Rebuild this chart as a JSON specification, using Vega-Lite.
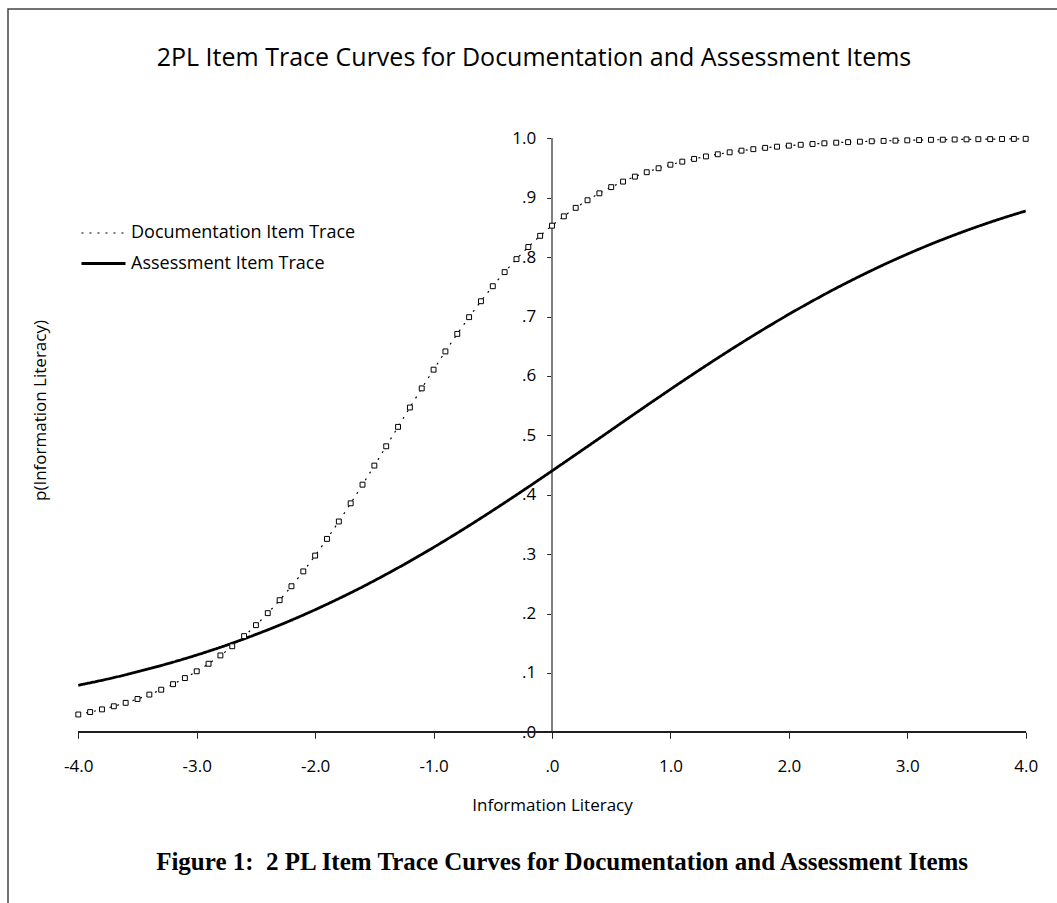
{
  "$schema": "https://vega.github.io/schema/vega-lite/v6.json",
  "width": 1057,
  "height": 903,
  "autosize": {"type": "fit", "contains": "padding"},
  "padding": {"left": 8, "top": 9, "right": -3, "bottom": -3},
  "background": "white",
  "config": {
    "view": {"stroke": "#444444", "strokeWidth": 1.5},
    "font": "Open Sans"
  },
  "title": {
    "text": "2PL Item Trace Curves for Documentation and Assessment Items",
    "subtitle": "\u200b\u2003\u2003\u00a0Figure 1:\u00a0 2 PL Item Trace Curves for Documentation and Assessment Items",
    "anchor": "middle",
    "frame": "group",
    "font": "Open Sans",
    "fontSize": 25,
    "fontWeight": "normal",
    "color": "black",
    "subtitleFont": "Liberation Serif",
    "subtitleFontSize": 25,
    "subtitleFontWeight": "bold",
    "subtitleColor": "black",
    "subtitlePadding": 779,
    "offset": -866
  },
  "data": {
    "values": [
      {"theta": -4.0, "series": "Documentation", "p": 0.0300},
      {"theta": -3.9, "series": "Documentation", "p": 0.0341},
      {"theta": -3.8, "series": "Documentation", "p": 0.0386},
      {"theta": -3.7, "series": "Documentation", "p": 0.0438},
      {"theta": -3.6, "series": "Documentation", "p": 0.0496},
      {"theta": -3.5, "series": "Documentation", "p": 0.0561},
      {"theta": -3.4, "series": "Documentation", "p": 0.0635},
      {"theta": -3.3, "series": "Documentation", "p": 0.0717},
      {"theta": -3.2, "series": "Documentation", "p": 0.0810},
      {"theta": -3.1, "series": "Documentation", "p": 0.0913},
      {"theta": -3.0, "series": "Documentation", "p": 0.1027},
      {"theta": -2.9, "series": "Documentation", "p": 0.1154},
      {"theta": -2.8, "series": "Documentation", "p": 0.1294},
      {"theta": -2.7, "series": "Documentation", "p": 0.1449},
      {"theta": -2.6, "series": "Documentation", "p": 0.1619},
      {"theta": -2.5, "series": "Documentation", "p": 0.1804},
      {"theta": -2.4, "series": "Documentation", "p": 0.2006},
      {"theta": -2.3, "series": "Documentation", "p": 0.2224},
      {"theta": -2.2, "series": "Documentation", "p": 0.2459},
      {"theta": -2.1, "series": "Documentation", "p": 0.2709},
      {"theta": -2.0, "series": "Documentation", "p": 0.2975},
      {"theta": -1.9, "series": "Documentation", "p": 0.3256},
      {"theta": -1.8, "series": "Documentation", "p": 0.3549},
      {"theta": -1.7, "series": "Documentation", "p": 0.3855},
      {"theta": -1.6, "series": "Documentation", "p": 0.4169},
      {"theta": -1.5, "series": "Documentation", "p": 0.4490},
      {"theta": -1.4, "series": "Documentation", "p": 0.4815},
      {"theta": -1.3, "series": "Documentation", "p": 0.5142},
      {"theta": -1.2, "series": "Documentation", "p": 0.5468},
      {"theta": -1.1, "series": "Documentation", "p": 0.5790},
      {"theta": -1.0, "series": "Documentation", "p": 0.6105},
      {"theta": -0.9, "series": "Documentation", "p": 0.6412},
      {"theta": -0.8, "series": "Documentation", "p": 0.6707},
      {"theta": -0.7, "series": "Documentation", "p": 0.6989},
      {"theta": -0.6, "series": "Documentation", "p": 0.7257},
      {"theta": -0.5, "series": "Documentation", "p": 0.7510},
      {"theta": -0.4, "series": "Documentation", "p": 0.7747},
      {"theta": -0.3, "series": "Documentation", "p": 0.7966},
      {"theta": -0.2, "series": "Documentation", "p": 0.8170},
      {"theta": -0.1, "series": "Documentation", "p": 0.8358},
      {"theta": 0.0, "series": "Documentation", "p": 0.8529},
      {"theta": 0.1, "series": "Documentation", "p": 0.8686},
      {"theta": 0.2, "series": "Documentation", "p": 0.8829},
      {"theta": 0.3, "series": "Documentation", "p": 0.8957},
      {"theta": 0.4, "series": "Documentation", "p": 0.9074},
      {"theta": 0.5, "series": "Documentation", "p": 0.9178},
      {"theta": 0.6, "series": "Documentation", "p": 0.9271},
      {"theta": 0.7, "series": "Documentation", "p": 0.9355},
      {"theta": 0.8, "series": "Documentation", "p": 0.9429},
      {"theta": 0.9, "series": "Documentation", "p": 0.9496},
      {"theta": 1.0, "series": "Documentation", "p": 0.9555},
      {"theta": 1.1, "series": "Documentation", "p": 0.9607},
      {"theta": 1.2, "series": "Documentation", "p": 0.9653},
      {"theta": 1.3, "series": "Documentation", "p": 0.9695},
      {"theta": 1.4, "series": "Documentation", "p": 0.9731},
      {"theta": 1.5, "series": "Documentation", "p": 0.9764},
      {"theta": 1.6, "series": "Documentation", "p": 0.9792},
      {"theta": 1.7, "series": "Documentation", "p": 0.9817},
      {"theta": 1.8, "series": "Documentation", "p": 0.9839},
      {"theta": 1.9, "series": "Documentation", "p": 0.9859},
      {"theta": 2.0, "series": "Documentation", "p": 0.9876},
      {"theta": 2.1, "series": "Documentation", "p": 0.9891},
      {"theta": 2.2, "series": "Documentation", "p": 0.9904},
      {"theta": 2.3, "series": "Documentation", "p": 0.9916},
      {"theta": 2.4, "series": "Documentation", "p": 0.9926},
      {"theta": 2.5, "series": "Documentation", "p": 0.9935},
      {"theta": 2.6, "series": "Documentation", "p": 0.9943},
      {"theta": 2.7, "series": "Documentation", "p": 0.9950},
      {"theta": 2.8, "series": "Documentation", "p": 0.9956},
      {"theta": 2.9, "series": "Documentation", "p": 0.9961},
      {"theta": 3.0, "series": "Documentation", "p": 0.9966},
      {"theta": 3.1, "series": "Documentation", "p": 0.9970},
      {"theta": 3.2, "series": "Documentation", "p": 0.9974},
      {"theta": 3.3, "series": "Documentation", "p": 0.9977},
      {"theta": 3.4, "series": "Documentation", "p": 0.9980},
      {"theta": 3.5, "series": "Documentation", "p": 0.9982},
      {"theta": 3.6, "series": "Documentation", "p": 0.9985},
      {"theta": 3.7, "series": "Documentation", "p": 0.9986},
      {"theta": 3.8, "series": "Documentation", "p": 0.9988},
      {"theta": 3.9, "series": "Documentation", "p": 0.9990},
      {"theta": 4.0, "series": "Documentation", "p": 0.9991},
      {"theta": -4.0, "series": "Assessment", "p": 0.0792},
      {"theta": -3.8, "series": "Assessment", "p": 0.0876},
      {"theta": -3.6, "series": "Assessment", "p": 0.0969},
      {"theta": -3.4, "series": "Assessment", "p": 0.1071},
      {"theta": -3.2, "series": "Assessment", "p": 0.1181},
      {"theta": -3.0, "series": "Assessment", "p": 0.1301},
      {"theta": -2.8, "series": "Assessment", "p": 0.1431},
      {"theta": -2.6, "series": "Assessment", "p": 0.1573},
      {"theta": -2.4, "series": "Assessment", "p": 0.1725},
      {"theta": -2.2, "series": "Assessment", "p": 0.1888},
      {"theta": -2.0, "series": "Assessment", "p": 0.2064},
      {"theta": -1.8, "series": "Assessment", "p": 0.2251},
      {"theta": -1.6, "series": "Assessment", "p": 0.2449},
      {"theta": -1.4, "series": "Assessment", "p": 0.2660},
      {"theta": -1.2, "series": "Assessment", "p": 0.2881},
      {"theta": -1.0, "series": "Assessment", "p": 0.3113},
      {"theta": -0.8, "series": "Assessment", "p": 0.3355},
      {"theta": -0.6, "series": "Assessment", "p": 0.3606},
      {"theta": -0.4, "series": "Assessment", "p": 0.3865},
      {"theta": -0.2, "series": "Assessment", "p": 0.4130},
      {"theta": 0.0, "series": "Assessment", "p": 0.4401},
      {"theta": 0.2, "series": "Assessment", "p": 0.4675},
      {"theta": 0.4, "series": "Assessment", "p": 0.4950},
      {"theta": 0.6, "series": "Assessment", "p": 0.5227},
      {"theta": 0.8, "series": "Assessment", "p": 0.5502},
      {"theta": 1.0, "series": "Assessment", "p": 0.5774},
      {"theta": 1.2, "series": "Assessment", "p": 0.6041},
      {"theta": 1.4, "series": "Assessment", "p": 0.6302},
      {"theta": 1.6, "series": "Assessment", "p": 0.6556},
      {"theta": 1.8, "series": "Assessment", "p": 0.6801},
      {"theta": 2.0, "series": "Assessment", "p": 0.7037},
      {"theta": 2.2, "series": "Assessment", "p": 0.7262},
      {"theta": 2.4, "series": "Assessment", "p": 0.7477},
      {"theta": 2.6, "series": "Assessment", "p": 0.7679},
      {"theta": 2.8, "series": "Assessment", "p": 0.7871},
      {"theta": 3.0, "series": "Assessment", "p": 0.8050},
      {"theta": 3.2, "series": "Assessment", "p": 0.8218},
      {"theta": 3.4, "series": "Assessment", "p": 0.8374},
      {"theta": 3.6, "series": "Assessment", "p": 0.8519},
      {"theta": 3.8, "series": "Assessment", "p": 0.8653},
      {"theta": 4.0, "series": "Assessment", "p": 0.8777}
    ]
  },
  "layer": [
    {
      "mark": {"type": "rule", "color": "#808080", "strokeWidth": 1.5},
      "encoding": {
        "x": {"datum": 0, "type": "quantitative"},
        "y": {"datum": 0, "type": "quantitative"},
        "y2": {"datum": 1}
      }
    },
    {
      "mark": {"type": "rule", "color": "#222222", "strokeWidth": 1},
      "encoding": {
        "y": {"datum": 0, "type": "quantitative"},
        "x": {"datum": -4, "type": "quantitative"},
        "x2": {"datum": 4}
      }
    },
    {
      "mark": {"type": "line", "color": "black", "interpolate": "monotone"},
      "encoding": {
        "x": {
          "field": "theta",
          "type": "quantitative",
          "scale": {"domain": [-4.5936, 4.2896], "nice": false, "zero": false},
          "axis": {
            "values": [-4, -3, -2, -1, 0, 1, 2, 3, 4],
            "labelExpr": "datum.value == 0 ? '.0' : (datum.value < 0 ? '-' + format(-datum.value, '.1f') : format(datum.value, '.1f'))",
            "domain": false,
            "grid": false,
            "offset": -173.7,
            "ticks": true,
            "tickSize": 6,
            "tickColor": "#222222",
            "labelPadding": 20,
            "labelFont": "Open Sans",
            "labelFontSize": 17,
            "labelColor": "black",
            "labelFlush": false,
            "title": "Information Literacy",
            "titleFont": "Open Sans",
            "titleFontSize": 17,
            "titleFontWeight": "normal",
            "titleColor": "black",
            "titleX": 544,
            "titleY": 73,
            "titleAlign": "center",
            "titleBaseline": "middle"
          }
        },
        "y": {
          "field": "p",
          "type": "quantitative",
          "scale": {"domain": [-0.29242, 1.21768], "nice": false, "zero": false},
          "axis": {
            "values": [0, 0.1, 0.2, 0.3, 0.4, 0.5, 0.6, 0.7, 0.8, 0.9, 1],
            "labelExpr": "datum.value >= 1 ? '1.0' : replace(format(datum.value, '.1f'), '0.', '.')",
            "domain": false,
            "grid": false,
            "offset": -543.7,
            "tickSize": 5,
            "tickColor": "#222222",
            "labelPadding": 11,
            "labelFont": "Open Sans",
            "labelFontSize": 17,
            "labelColor": "black",
            "labelFlush": false,
            "title": "p(Information Literacy)",
            "titleFont": "Open Sans",
            "titleFontSize": 17,
            "titleFontWeight": "normal",
            "titleColor": "black",
            "titleX": -511.7,
            "titleY": 401,
            "titleAngle": 270,
            "titleAlign": "center",
            "titleBaseline": "middle"
          }
        },
        "strokeDash": {
          "field": "series",
          "type": "nominal",
          "scale": {"domain": ["Documentation", "Assessment"], "range": [[2, 6], [1, 0]]},
          "legend": {
            "title": null,
            "orient": "none",
            "legendX": 83,
            "legendY": 212,
            "symbolType": "M-2,0H2",
            "symbolSize": 484,
            "symbolStrokeColor": "black",
            "symbolFillColor": "transparent",
            "labelFont": "Open Sans",
            "labelFontSize": 18,
            "labelColor": "black",
            "labelOffset": 15,
            "labelLimit": 0,
            "rowPadding": 9,
            "padding": 0,
            "labelExpr": "datum.label + ' Item Trace'"
          }
        },
        "strokeWidth": {
          "field": "series",
          "type": "nominal",
          "scale": {"domain": ["Documentation", "Assessment"], "range": [1.2, 2.8]},
          "legend": null
        }
      }
    },
    {
      "transform": [{"filter": "datum.series == 'Documentation'"}],
      "mark": {"type": "point", "shape": "square", "size": 24, "filled": true, "fill": "white", "stroke": "black", "strokeWidth": 1, "opacity": 1},
      "encoding": {
        "x": {"field": "theta", "type": "quantitative"},
        "y": {"field": "p", "type": "quantitative"}
      }
    }
  ]
}
